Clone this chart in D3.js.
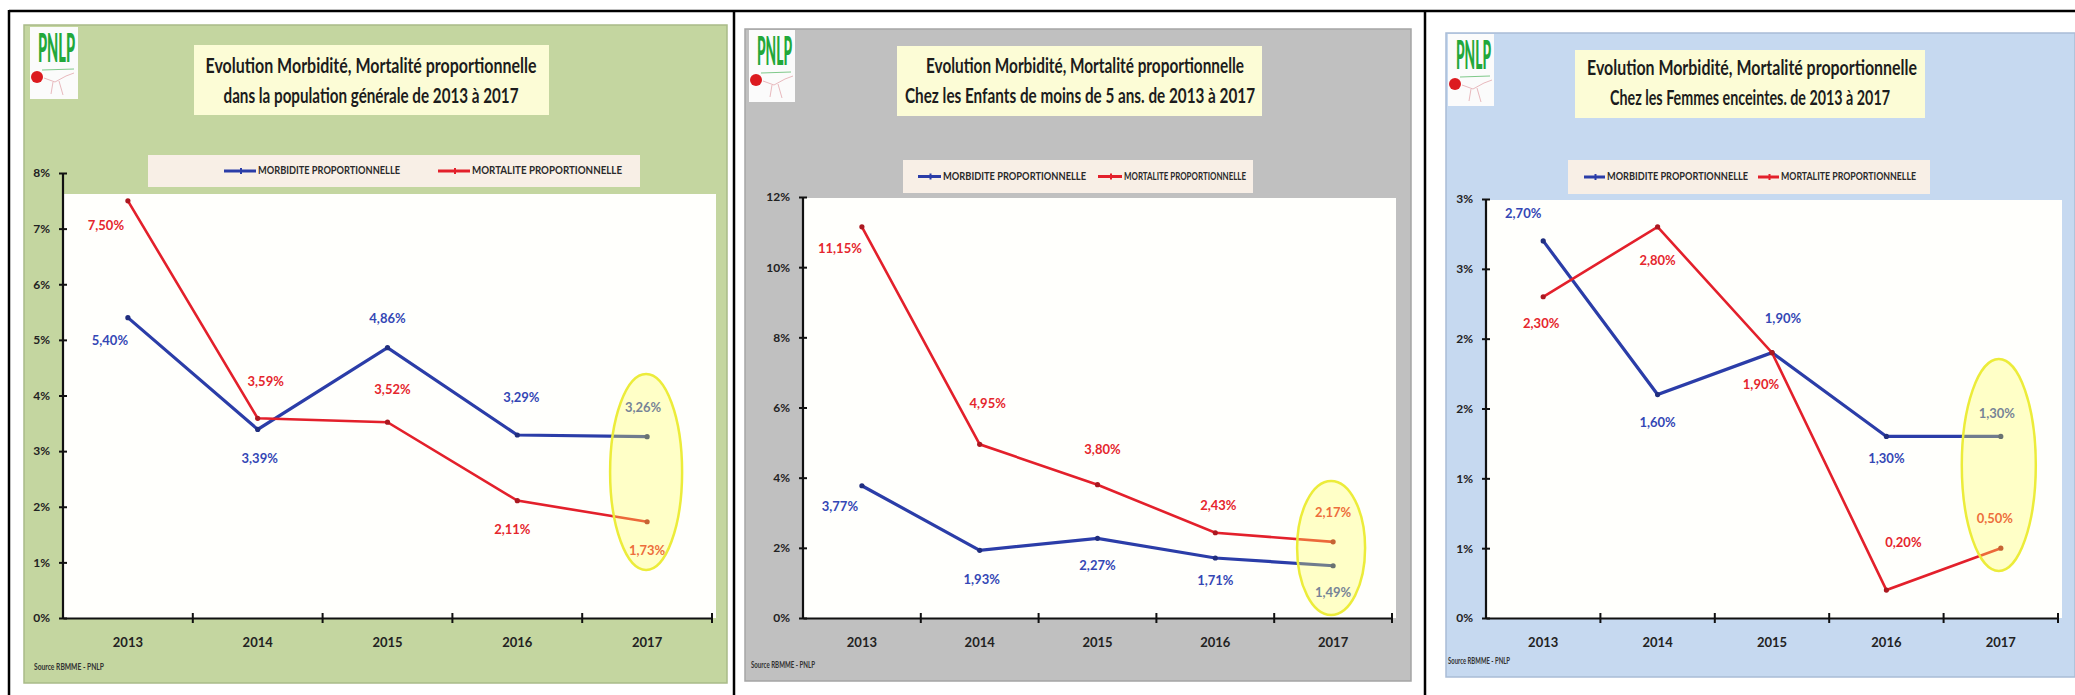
<!DOCTYPE html>
<html>
<head>
<meta charset="utf-8">
<script src="https://cdnjs.cloudflare.com/ajax/libs/d3/7.8.5/d3.min.js"></script>
<style>
  body { margin: 0; background: #ffffff; }
  svg { display: block; }
</style>
</head>
<body>
<script>
/*
 * three panels: morbidite / mortalite proportionnelle 2013-2017 (PNLP)
 */

var years = ["2013", "2014", "2015", "2016", "2017"];

var morbGeneral = [5.40, 3.39, 4.86, 3.29, 3.26];
var mortGeneral = [7.50, 3.59, 3.52, 2.11, 1.73];

var morbEnfants = [3.77, 1.93, 2.27, 1.71, 1.49];
var mortEnfants = [11.15, 4.95, 3.80, 2.43, 2.17];

var morbFemmes = [2.70, 1.60, 1.90, 1.30, 1.30];
var mortFemmes = [2.30, 2.80, 1.90, 0.20, 0.50];

var ticksGeneral = [0, 1, 2, 3, 4, 5, 6, 7, 8];
var ticksEnfants = [0, 2, 4, 6, 8, 10, 12];
var ticksFemmes = [0, 0.5, 1, 1.5, 2, 2.5, 3];

var titleLine = "Evolution  Morbidité, Mortalité proportionnelle";
var subtitles = [
    "dans la population générale de 2013 à 2017",
    "Chez les Enfants de moins de 5 ans. de 2013 à 2017",
    "Chez les Femmes enceintes. de 2013 à 2017"
];
var seriesNames = ["MORBIDITE PROPORTIONNELLE", "MORTALITE PROPORTIONNELLE"];
var sourceText = "Source RBMME - PNLP";
var logoText = "PNLP";

var W = 2075, H = 695;
var blue = "#2b3da8", red = "#e3202b";
var blueLabel = "#3447b5", redLabel = "#e5262d";

var fr = d3.formatLocale({decimal: ",", thousands: " ", grouping: [3], currency: ["", " €"]});
var fmtValue = fr.format(".2f");
// excel rounds 0.5 up, so 0.5% shows as 1%
var fmtTick = function(d) { return Math.round(d) + "%"; };

var svg = d3.select("body").append("svg")
    .attr("width", W)
    .attr("height", H)
    .style("font-family", "Lato, 'Open Sans', sans-serif");

svg.append("rect").attr("width", W).attr("height", H).style("fill", "#ffffff");

// layout of each panel (pixels only, data stays above)
var charts = [
    {
        morb: morbGeneral, mort: mortGeneral, ticks: ticksGeneral, subtitle: subtitles[0],
        bg: "#c4d6a0", edge: "#a9bb88",
        box: [24, 25, 703, 658],
        logo: [30, 27, 48, 72],
        title: [194, 45, 355, 70], line1: [371, 68, 331], line2: [371, 98, 295],
        legend: [148, 155, 492, 32], items: [[224, 258, 142], [438, 472, 150]],
        axisX: 63, axisEnd: 712, yTop: 173, yZero: 618, plotTop: 194,
        source: [34, 668, 70],
        ring: [-1, 472, 36, 98],
        morbLab: [[-18, 24], [2, 30], [0, -28], [4, -36], [-4, -28]],
        mortLab: [[-22, 26], [8, -36], [5, -32], [-5, 30], [0, 30]]
    },
    {
        morb: morbEnfants, mort: mortEnfants, ticks: ticksEnfants, subtitle: subtitles[1],
        bg: "#c0c0c0", edge: "#a5a5a5",
        box: [745, 29, 666, 652],
        logo: [749, 30, 46, 72],
        title: [897, 46, 365, 70], line1: [1085, 68, 318], line2: [1080, 98, 350],
        legend: [903, 160, 350, 33], items: [[918, 943, 143], [1098, 1124, 122]],
        axisX: 803, axisEnd: 1392, yTop: 197, yZero: 618, plotTop: 198,
        source: [751, 666, 64],
        ring: [-2, 548, 34, 67],
        morbLab: [[-22, 22], [2, 30], [0, 28], [0, 24], [0, 28]],
        mortLab: [[-22, 23], [8, -40], [5, -34], [3, -26], [0, -28]]
    },
    {
        morb: morbFemmes, mort: mortFemmes, ticks: ticksFemmes, subtitle: subtitles[2],
        bg: "#c6d9f0", edge: "#a9bcd6",
        box: [1446, 33, 629, 644],
        logo: [1448, 34, 46, 72],
        title: [1575, 50, 350, 68], line1: [1752, 70, 330], line2: [1750, 100, 280],
        legend: [1568, 160, 362, 34], items: [[1584, 1607, 141], [1758, 1781, 135]],
        axisX: 1486, axisEnd: 2058, yTop: 199, yZero: 618, plotTop: 200,
        source: [1448, 662, 62],
        ring: [-2, 465, 37, 106],
        morbLab: [[-20, -26], [0, 29], [11, -33], [0, 23], [-4, -22]],
        mortLab: [[-2, 28], [0, 35], [-11, 33], [17, -46], [-6, -28]]
    }
];

// table borders
svg.append("line").attr("x1", 9).attr("x2", W).attr("y1", 11).attr("y2", 11)
    .style("stroke", "#000").style("stroke-width", 2.5);
[9, 734, 1425].forEach(function(bx) {
    svg.append("line").attr("x1", bx).attr("x2", bx).attr("y1", 10).attr("y2", H)
        .style("stroke", "#000").style("stroke-width", 2.5);
});

charts.forEach(drawChart);

function drawLogo(g, r) {
    var lg = g.append("g").attr("transform", "translate(" + r[0] + "," + r[1] + ")");
    lg.append("rect").attr("width", r[2]).attr("height", r[3]).style("fill", "#fbfbfb");
    lg.append("text")
        .attr("x", 8).attr("y", 35)
        .text(logoText)
        .attr("textLength", r[2] - 11)
        .attr("lengthAdjust", "spacingAndGlyphs")
        .style("font-size", "40px").style("font-weight", 900)
        .style("fill", "#22a83a");
    lg.append("line").attr("x1", 12).attr("x2", r[2] - 4).attr("y1", 43).attr("y2", 42)
        .style("stroke", "#7fc98a").style("stroke-width", 1);
    lg.append("circle").attr("cx", 7).attr("cy", 50).attr("r", 6).style("fill", "#dc1a1f");
    // faint mosquito sketch
    lg.append("path").attr("d", "M14 51 L25 55 L36 49 M23 55 L21 67 M29 54 L33 68 M36 49 L44 46")
        .style("fill", "none").style("stroke", "#e8b9bd").style("stroke-width", 1);
}

function drawChart(c) {
    var g = svg.append("g");

    // background panel
    g.append("rect")
        .attr("x", c.box[0]).attr("y", c.box[1])
        .attr("width", c.box[2]).attr("height", c.box[3])
        .style("fill", c.bg).style("stroke", c.edge).style("stroke-width", 1.5);

    drawLogo(g, c.logo);

    // title box
    g.append("rect")
        .attr("x", c.title[0]).attr("y", c.title[1])
        .attr("width", c.title[2]).attr("height", c.title[3])
        .style("fill", "#fcfcd6");
    [[titleLine, c.line1], [c.subtitle, c.line2]].forEach(function(t) {
        g.append("text")
            .attr("x", t[1][0]).attr("y", t[1][1])
            .attr("text-anchor", "middle")
            .attr("dominant-baseline", "middle")
            .attr("textLength", t[1][2])
            .attr("lengthAdjust", "spacingAndGlyphs")
            .style("font-size", "21px").style("font-weight", 700)
            .style("fill", "#1c1c1c")
            .text(t[0]);
    });

    // legend
    g.append("rect")
        .attr("x", c.legend[0]).attr("y", c.legend[1])
        .attr("width", c.legend[2]).attr("height", c.legend[3])
        .style("fill", "#f8efe6");
    var ly = c.legend[1] + c.legend[3] / 2;
    [blue, red].forEach(function(col, i) {
        var it = c.items[i];
        g.append("line").attr("x1", it[0]).attr("x2", it[1] - 2).attr("y1", ly).attr("y2", ly)
            .style("stroke", col).style("stroke-width", 3);
        g.append("line").attr("x1", (it[0] + it[1]) / 2).attr("x2", (it[0] + it[1]) / 2)
            .attr("y1", ly - 3).attr("y2", ly + 3)
            .style("stroke", col).style("stroke-width", 2);
        g.append("text")
            .attr("x", it[1]).attr("y", ly)
            .attr("dominant-baseline", "middle")
            .attr("textLength", it[2])
            .attr("lengthAdjust", "spacingAndGlyphs")
            .style("font-size", "12px").style("font-weight", 700)
            .style("fill", "#2a2a2a")
            .text(seriesNames[i]);
    });

    // scales
    var x = d3.scaleBand().domain(years).range([c.axisX, c.axisEnd]);
    var y = d3.scaleLinear().domain([0, d3.max(c.ticks)]).range([c.yZero, c.yTop]);
    var cx = function(i) { return x(years[i]) + x.bandwidth() / 2; };

    // plot area
    g.append("rect")
        .attr("x", c.axisX).attr("y", c.plotTop)
        .attr("width", c.axisEnd - c.axisX + 4).attr("height", c.yZero - c.plotTop)
        .style("fill", "#fffffc");

    // series
    var line = d3.line()
        .x(function(d, i) { return cx(i); })
        .y(function(d) { return y(d); });

    [[c.morb, blue, 3.2], [c.mort, red, 2.6]].forEach(function(s) {
        g.append("path").datum(s[0])
            .attr("d", line)
            .style("fill", "none")
            .style("stroke", s[1])
            .style("stroke-width", s[2])
            .style("stroke-linejoin", "miter");
        g.selectAll(null).data(s[0]).enter().append("circle")
            .attr("cx", function(d, i) { return cx(i); })
            .attr("cy", function(d) { return y(d); })
            .attr("r", 2.6)
            .style("fill", d3.color(s[1]).darker(0.8));
    });

    // data labels
    [[c.morb, c.morbLab, blueLabel], [c.mort, c.mortLab, redLabel]].forEach(function(s) {
        g.selectAll(null).data(s[0]).enter().append("text")
            .attr("x", function(d, i) { return cx(i) + s[1][i][0]; })
            .attr("y", function(d, i) { return y(d) + s[1][i][1]; })
            .attr("text-anchor", "middle")
            .attr("dominant-baseline", "middle")
            .style("font-size", "13px").style("font-weight", 700)
            .style("fill", s[2])
            .text(function(d) { return fmtValue(d) + "%"; });
    });

    // y axis with cross ticks
    var ya = g.append("g")
        .attr("transform", "translate(" + c.axisX + ",0)")
        .call(d3.axisLeft(y).tickValues(c.ticks).tickSize(4).tickSizeOuter(0).tickPadding(9).tickFormat(fmtTick));
    ya.select(".domain").attr("d", "M0," + c.yZero + "V" + c.yTop).style("stroke", "#111").style("stroke-width", 2.2);
    ya.selectAll(".tick line").attr("x1", 4).attr("x2", -4).style("stroke", "#111").style("stroke-width", 2);
    ya.selectAll(".tick text")
        .style("font-family", "Lato, sans-serif")
        .style("font-size", "12px").style("font-weight", 700).style("fill", "#222");

    // x axis, category labels in the middle of each band
    var xa = g.append("g")
        .attr("transform", "translate(0," + c.yZero + ")")
        .call(d3.axisBottom(x).tickSize(0).tickSizeOuter(0).tickPadding(20));
    xa.select(".domain").style("stroke", "#111").style("stroke-width", 2.2);
    xa.selectAll(".tick text")
        .style("font-family", "Lato, sans-serif")
        .style("font-size", "13px").style("font-weight", 700).style("fill", "#222");
    // cross ticks on the band edges
    xa.selectAll(null).data(d3.range(1, years.length + 1)).enter().append("line")
        .attr("x1", function(i) { return c.axisX + i * x.step(); })
        .attr("x2", function(i) { return c.axisX + i * x.step(); })
        .attr("y1", -5).attr("y2", 5)
        .style("stroke", "#111").style("stroke-width", 2);

    // source
    g.append("text")
        .attr("x", c.source[0]).attr("y", c.source[1])
        .attr("dominant-baseline", "middle")
        .attr("textLength", c.source[2])
        .attr("lengthAdjust", "spacingAndGlyphs")
        .style("font-size", "9px").style("font-weight", 700)
        .style("fill", "#333")
        .text(sourceText);

    // yellow highlight on the last year
    g.append("ellipse")
        .attr("cx", cx(years.length - 1) + c.ring[0])
        .attr("cy", c.ring[1])
        .attr("rx", c.ring[2]).attr("ry", c.ring[3])
        .style("fill", "rgba(255,255,90,0.33)")
        .style("stroke", "#ecec3a").style("stroke-width", 2.5);
}
</script>
</body>
</html>
